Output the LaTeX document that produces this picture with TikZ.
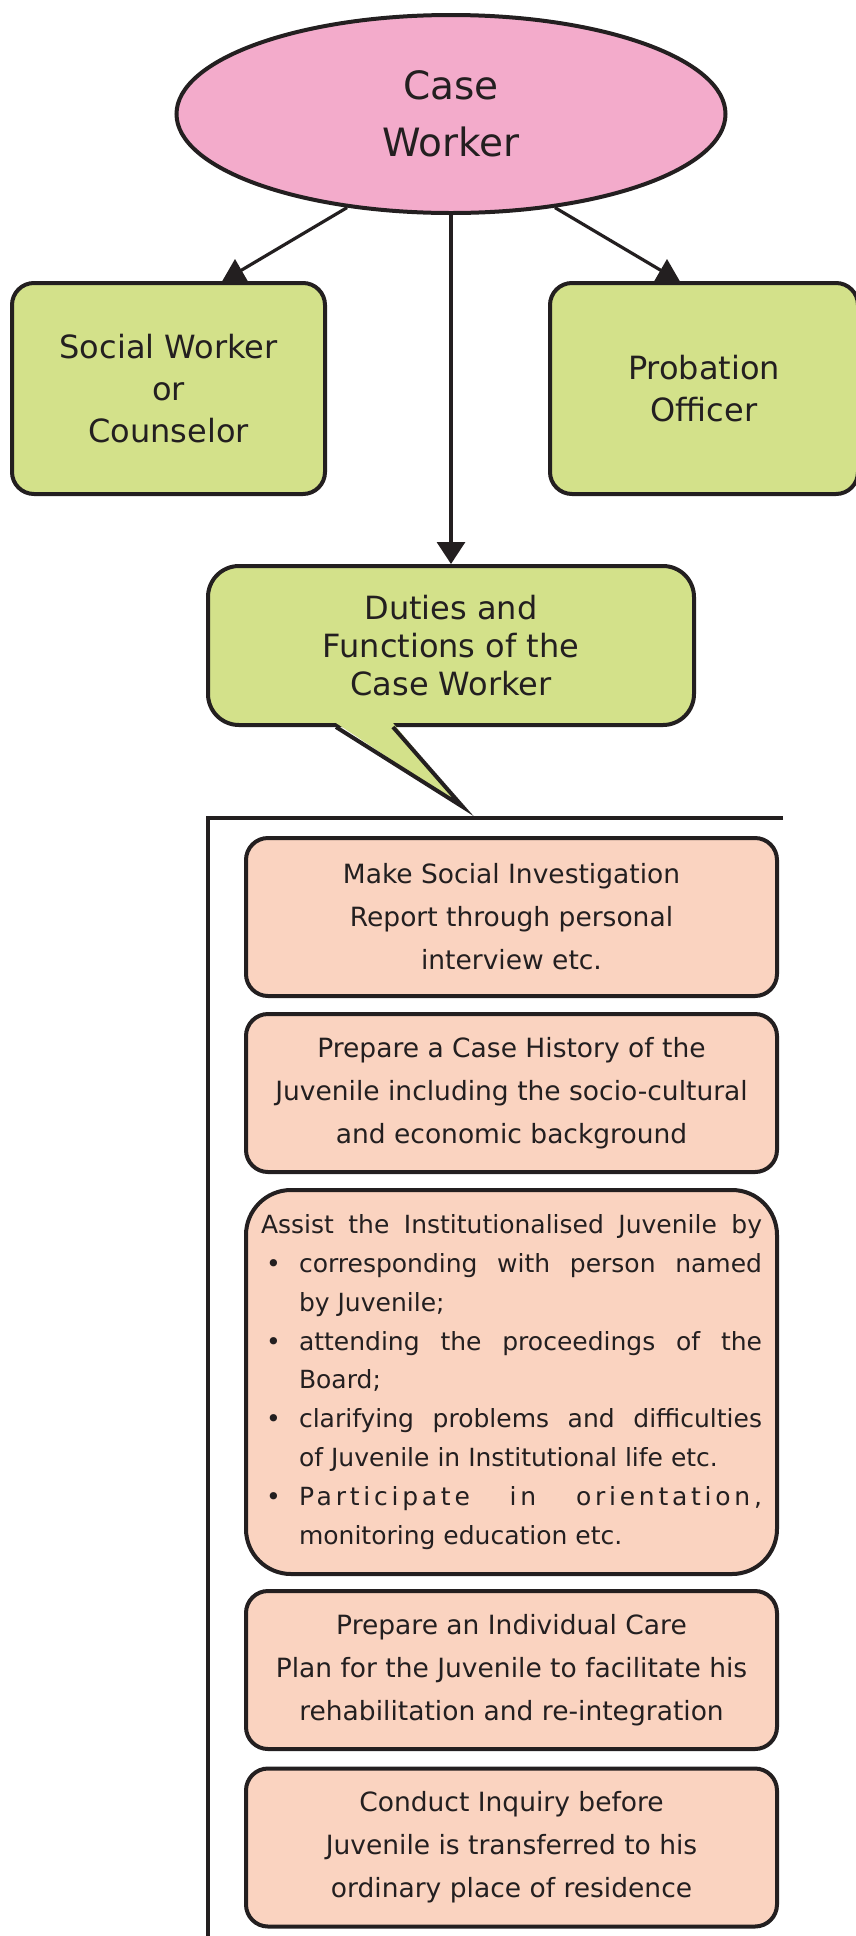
\documentclass[tikz,border=0pt]{standalone}
\usepackage{fontspec}
\setmainfont{DejaVu Sans}
\usetikzlibrary{arrows.meta}
\usetikzlibrary{shapes.geometric}
\pgfdeclarelayer{edgelayer}
\pgfdeclarelayer{nodelayer}
\pgfsetlayers{edgelayer,nodelayer,main}
\definecolor{casepink}{HTML}{F3ABCB}
\definecolor{rolegreen}{HTML}{D3E18A}
\definecolor{dutypeach}{HTML}{FAD3C0}
\definecolor{inkblack}{HTML}{231F20}
\tikzstyle{none}=[inner sep=0pt]
\tikzstyle{worker}=[ellipse,fill=casepink,draw=inkblack,line width=4pt,minimum width=549pt,minimum height=198pt,inner sep=0pt,align=center,text=inkblack,font=\fontsize{39}{57}\selectfont]
\tikzstyle{role}=[rectangle,rounded corners=22pt,fill=rolegreen,draw=inkblack,line width=4pt,minimum height=211pt,inner sep=0pt,align=center,text=inkblack,font=\fontsize{32}{42}\selectfont]
\tikzstyle{bubble}=[rectangle,rounded corners=31pt,fill=rolegreen,draw=inkblack,line width=4pt,minimum width=486pt,minimum height=159pt,inner sep=0pt,align=center,text=inkblack,font=\fontsize{32}{38}\selectfont]
\tikzstyle{duty}=[rectangle,rounded corners=22pt,fill=dutypeach,draw=inkblack,line width=4pt,minimum width=531pt,minimum height=158pt,inner sep=0pt,align=center,text=inkblack,font=\fontsize{26.5}{43}\selectfont]
\tikzstyle{longduty}=[style=duty,rounded corners=45pt,minimum height=384pt,text width=501pt,align=justify,font=\fontsize{25}{38.9}\selectfont]
\tikzstyle{wedge}=[regular polygon,regular polygon sides=3,minimum size=30pt,inner sep=0pt,fill=inkblack]
\tikzstyle{transition}=[-{Triangle[length=22pt,width=28pt]},draw=inkblack,line width=3.2pt]
\tikzstyle{line}=[draw=inkblack,line width=3.2pt]
\tikzstyle{bracket}=[draw=inkblack,line width=3.6pt]
\newenvironment{dutylist}{\begin{list}{\textbullet}{\setlength{\leftmargin}{38pt}\setlength{\labelwidth}{33pt}\setlength{\labelsep}{5pt}\setlength{\itemsep}{0pt}\setlength{\topsep}{0pt}\setlength{\partopsep}{0pt}\setlength{\parsep}{0pt}\renewcommand{\makelabel}[1]{\hspace{5pt}##1\hfil}}}{\end{list}}

\begin{document}
\begin{tikzpicture}[x=1pt,y=-1pt]
	\useasboundingbox (0,0) rectangle (855,1936);
	\begin{pgfonlayer}{nodelayer}
		\node [style=worker] (0) at (451, 114) {Case\\Worker};
		\node [style=role, minimum width=313pt] (1) at (168.5, 388.5) {Social Worker\\or\\Counselor};
		\node [style=role, minimum width=308pt] (2) at (704, 388.5) {Probation\\Officer};
		\node [style=bubble] (3) at (451, 645.5) {Duties and\\Functions of the\\Case Worker};
		\node [style=duty] (4) at (511.5, 917) {Make Social Investigation\\Report through personal\\interview etc.};
		\node [style=duty] (5) at (511.5, 1093) {Prepare a Case History of the\\Juvenile including the socio-cultural\\and economic background};
		\node [style=longduty] (6) at (511.5, 1382) {\parfillskip=0pt Assist the Institutionalised Juvenile by\par
			\parfillskip=0pt plus 1fil
			\begin{dutylist}
				\item corresponding with person named\linebreak by Juvenile;
				\item attending the proceedings of the\linebreak Board;
				\item clarifying problems and difficulties\linebreak of Juvenile in Institutional life etc.
				\item {\addfontfeature{LetterSpace=15}Participate in orientation,}\linebreak monitoring education etc.
			\end{dutylist}};
		\node [style=duty] (7) at (511.5, 1670) {Prepare an Individual Care\\Plan for the Juvenile to facilitate his\\rehabilitation and re-integration};
		\node [style=duty] (8) at (511.5, 1847.5) {Conduct Inquiry before\\Juvenile is transferred to his\\ordinary place of residence};
		\node [style=wedge] (9) at (235, 274) {};
		\node [style=wedge] (10) at (667, 274) {};
	\end{pgfonlayer}
	\begin{pgfonlayer}{edgelayer}
		\draw [style=line] (0.222) to (9.center);
		\draw [style=line] (0.318) to (10.center);
		\draw [style=transition] (0.south) to (3.north);
		\draw [style=bracket] (783, 818) -- (208, 818) -- (208, 1936);
	\end{pgfonlayer}
	% tail of the speech bubble
	\coordinate (11) at (463, 807);
	\fill [fill=rolegreen] ([xshift=-115pt,yshift=4pt]3.south) -- (11) -- ([xshift=-58pt,yshift=4pt]3.south) -- cycle;
	\draw [draw=inkblack, line width=4pt] ([xshift=-115pt]3.south) -- (11) -- ([xshift=-58pt]3.south);
\end{tikzpicture}
\end{document}
